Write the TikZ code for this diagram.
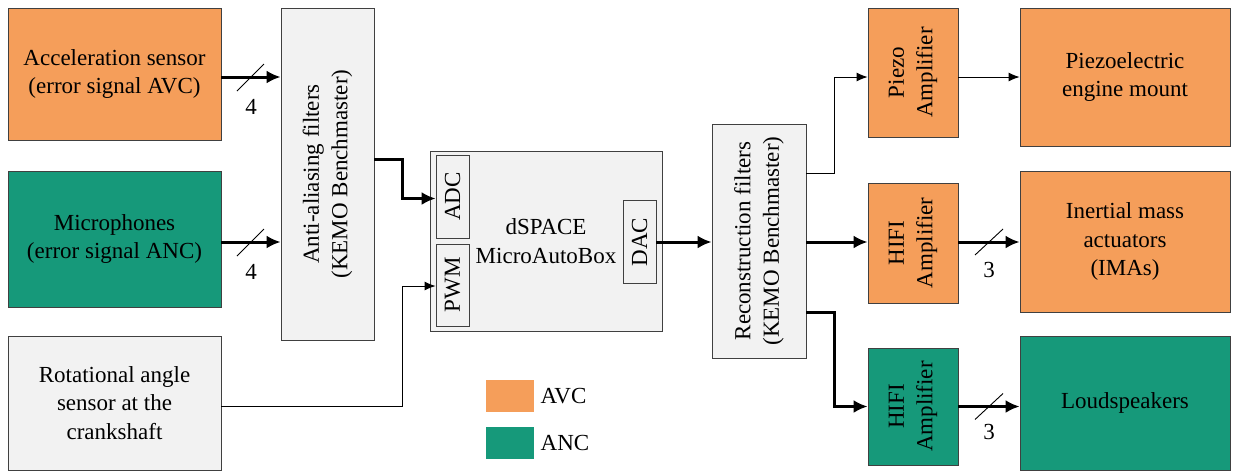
\documentclass[tikz,border=0pt]{standalone}
\usepackage{fontspec}
\setmainfont{Liberation Serif}
\usetikzlibrary{arrows.meta,calc}
\definecolor{avc}{HTML}{F59E5A}
\definecolor{anc}{HTML}{16997A}
\definecolor{boxgray}{HTML}{F2F2F2}
\definecolor{edge}{HTML}{404040}
\tikzset{
  txt/.style={font=\fontsize{23}{28.5}\selectfont, align=center},
  blk/.style={draw=edge, line width=0.8pt, inner sep=0pt, txt},
  orangebox/.style={blk, fill=avc},
  greenbox/.style={blk, fill=anc},
  graybox/.style={blk, fill=boxgray},
  thickarrow/.style={line width=3pt, -{Latex[length=14pt,width=13pt]}},
  thinarrow/.style={line width=1pt, -{Latex[length=11pt,width=9pt]}},
  slashline/.style={line width=0.9pt},
}
\begin{document}
\begin{tikzpicture}[x=1pt,y=-1pt]
\useasboundingbox (0,0) rectangle (1235,475);
% left column
\node[orangebox, minimum width=213, minimum height=132] (A) at (114.5,74) {Acceleration sensor\\(error signal AVC)};
\node[greenbox, minimum width=213, minimum height=136] (M) at (114.5,239) {Microphones\\(error signal ANC)};
\node[graybox, minimum width=213, minimum height=134] (R) at (114.5,403) {Rotational angle\\sensor at the\\crankshaft};
% anti-aliasing
\node[graybox, minimum width=93, minimum height=332] (AA) at (327.5,174) {};
\node[txt, rotate=90] (AAt) at (AA) {Anti-aliasing filters\\(KEMO Benchmaster)};
% dSPACE
\node[graybox, minimum width=232, minimum height=180] (DS) at (546,241) {dSPACE\\MicroAutoBox};
\node[graybox, minimum width=33, minimum height=83] (ADC) at (452.5,196.5) {};
\node[txt, rotate=90] (ADCt) at (ADC) {ADC};
\node[graybox, minimum width=33, minimum height=82] (PWM) at (452.5,285) {};
\node[txt, rotate=90] (PWMt) at (PWM) {PWM};
\node[graybox, minimum width=33, minimum height=83] (DAC) at (639.5,242) {};
\node[txt, rotate=90] (DACt) at (DAC) {DAC};
% reconstruction
\node[graybox, minimum width=94, minimum height=234] (RF) at (759,241) {};
\node[txt, rotate=90] (RFt) at (RF) {Reconstruction filters\\(KEMO Benchmaster)};
% amplifiers
\node[orangebox, minimum width=90, minimum height=129] (PA) at (913,72.5) {};
\node[txt, rotate=90] (PAt) at (PA) {Piezo\\Amplifier};
\node[orangebox, minimum width=90, minimum height=120] (H1) at (913,243) {};
\node[txt, rotate=90] (H1t) at (H1) {HIFI\\Amplifier};
\node[greenbox, minimum width=90, minimum height=117] (H2) at (913,406.5) {};
\node[txt, rotate=90] (H2t) at (H2) {HIFI\\Amplifier};
% right column
\node[orangebox, minimum width=210, minimum height=138] (PEM) at (1125,77) {Piezoelectric\\engine mount};
\node[orangebox, minimum width=210, minimum height=141] (IMA) at (1125,241.5) {Inertial mass\\actuators\\(IMAs)};
\node[greenbox, minimum width=210, minimum height=134] (LS) at (1125,403) {Loudspeakers};
% legend
\node[fill=avc, minimum width=48, minimum height=32, inner sep=0pt] (LA) at (510,396) {};
\node[txt, anchor=west] (LAt) at ([xshift=3pt]LA.east) {AVC};
\node[fill=anc, minimum width=48, minimum height=32, inner sep=0pt] (LN) at (510,443) {};
\node[txt, anchor=west] (LNt) at ([xshift=3pt]LN.east) {ANC};
% connectors
\draw[thickarrow] ([yshift=-3pt]A.east) -- ([yshift=-3pt]A.east -| AA.west) coordinate[pos=0.5] (s1);
\draw[slashline] (s1) +(-14,14) -- +(13,-13);
\node[txt] (n1) at ([yshift=-30pt]s1) {4};
\draw[thickarrow] ([yshift=-3pt]M.east) -- ([yshift=-3pt]M.east -| AA.west) coordinate[pos=0.5] (s2);
\draw[slashline] (s2) +(-14,14) -- +(13,-13);
\node[txt] (n2) at ([yshift=-30pt]s2) {4};
\draw[thickarrow] ([yshift=15pt]AA.east) -- ++(28,0) |- ([yshift=-2pt]ADC.west);
\draw[thinarrow] ([yshift=-3pt]R.east) -- ++(181,0) |- ([yshift=-1pt]PWM.west);
\draw[thickarrow] (DAC.east) -- (DAC.east -| RF.west);
\draw[thinarrow] ([yshift=68pt]RF.east) -- ++(28,0) |- ([yshift=-4.5pt]PA.west);
\draw[thinarrow] ([yshift=-4.5pt]PA.east) -- ([yshift=-4.5pt]PA.east -| PEM.west);
\draw[thickarrow] ([yshift=-1pt]RF.east) -- ([yshift=-1pt]RF.east -| H1.west);
\draw[thickarrow] ([yshift=-71pt]RF.east) -- ++(28,0) |- (H2.west);
\draw[thickarrow] ([yshift=1pt]H1.east) -- ([yshift=1pt]H1.east -| IMA.west) coordinate[pos=0.5] (s3);
\draw[slashline] (s3) +(-14,13) -- +(14,-13);
\node[txt] (n3) at ([yshift=-28pt]s3) {3};
\draw[thickarrow] ([yshift=0pt]H2.east) -- (H2.east -| LS.west) coordinate[pos=0.5] (s4);
\draw[slashline] (s4) +(-14,13) -- +(14,-13);
\node[txt] (n4) at ([yshift=-25pt]s4) {3};
\end{tikzpicture}
\end{document}
